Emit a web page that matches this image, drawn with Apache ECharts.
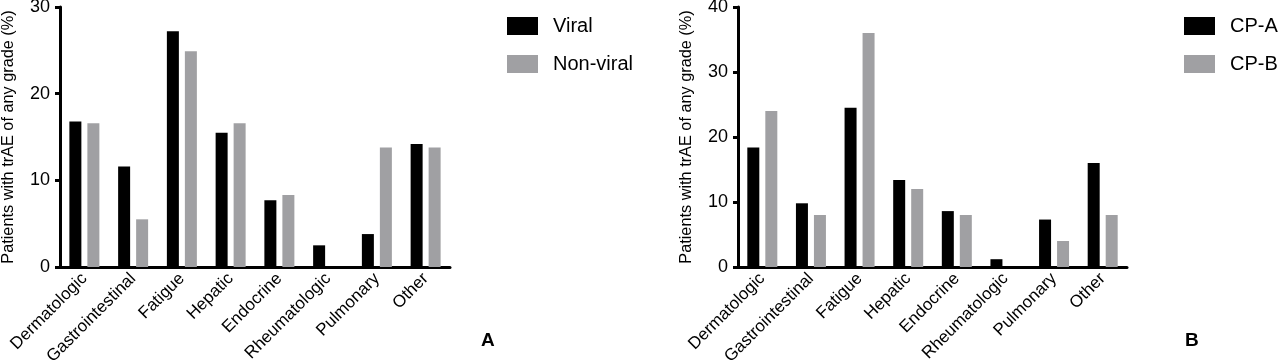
<!DOCTYPE html>
<html>
<head>
<meta charset="utf-8">
<script src="https://cdn.jsdelivr.net/npm/echarts@6/dist/echarts.min.js"></script>
<style>
html,body{margin:0;padding:0;background:#fff;}
#chart{width:1280px;height:361px;}
</style>
</head>
<body>
<div id="chart"></div>
<script>
const categories = ['Dermatologic','Gastrointestinal','Fatigue','Hepatic','Endocrine','Rheumatologic','Pulmonary','Other'];
const viral    = [16.8, 11.6, 27.2, 15.5, 7.7, 2.5, 3.8, 14.2];
const nonViral = [16.6, 5.5, 24.9, 16.6, 8.3, 0, 13.8, 13.8];
const cpA      = [18.4, 9.8, 24.5, 13.4, 8.6, 1.2, 7.3, 16.0];
const cpB      = [24, 8, 36, 12, 8, 0, 4, 8];
const yTicksA = [0, 10, 20, 30];
const yTicksB = [0, 10, 20, 30, 40];
const yTitle = 'Patients with trAE of any grade (%)';

const FONT = '"Liberation Sans", Arial, Helvetica, sans-serif';
const BLACK = '#000000';
const GRAY = '#a0a0a3';

function xAxis(gi){
  return {
    type:'category', gridIndex:gi, data:categories, boundaryGap:true,
    axisLine:{show:true, lineStyle:{color:'#000', width:3}},
    axisTick:{show:false},
    axisLabel:{rotate:45, interval:0, margin:9, fontSize:17, color:'#000', fontFamily:FONT}
  };
}
function yAxis(gi, ticks){
  return {
    type:'value', gridIndex:gi, min:ticks[0], max:ticks[ticks.length-1], interval:ticks[1]-ticks[0],
    name:yTitle, nameLocation:'middle', nameGap:43,
    nameTextStyle:{fontSize:16.3, color:'#000', fontFamily:FONT},
    splitLine:{show:false},
    axisLine:{show:true, onZero:false, lineStyle:{color:'#000', width:3}},
    axisTick:{show:true, length:5, lineStyle:{color:'#000', width:3}},
    axisLabel:{margin:10, fontSize:18, color:'#000', fontFamily:FONT}
  };
}
function bar(name, data, color, xi){
  return {name:name, type:'bar', xAxisIndex:xi, yAxisIndex:xi, data:data,
    barWidth:12, barGap:'50%', itemStyle:{color:color}, animation:false};
}
function legend(names, left){
  return {
    data:names, orient:'vertical', left:left, top:16, itemWidth:31, itemHeight:18, itemGap:18,
    icon:'rect', padding:0,
    textStyle:{fontSize:20, color:'#000', fontFamily:FONT, padding:[0,0,0,10]}
  };
}

const chart = echarts.init(document.getElementById('chart'), null, {renderer:'canvas'});
chart.setOption({
  animation:false,
  backgroundColor:'#fff',
  grid:[
    {left:60, top:7, width:390, height:260, containLabel:false, outerBoundsMode:'none'},
    {left:738, top:7, width:389, height:260, containLabel:false, outerBoundsMode:'none'}
  ],
  xAxis:[xAxis(0), xAxis(1)],
  yAxis:[yAxis(0, yTicksA), yAxis(1, yTicksB)],
  legend:[legend(['Viral','Non-viral'], 507), legend(['CP-A','CP-B'], 1184)],
  title:[
    {text:'A', left:481, top:331, padding:0, textStyle:{fontSize:19, fontWeight:'bold', color:'#000', fontFamily:FONT}},
    {text:'B', left:1185, top:331, padding:0, textStyle:{fontSize:19, fontWeight:'bold', color:'#000', fontFamily:FONT}}
  ],
  series:[
    bar('Viral', viral, BLACK, 0),
    bar('Non-viral', nonViral, GRAY, 0),
    bar('CP-A', cpA, BLACK, 1),
    bar('CP-B', cpB, GRAY, 1)
  ]
});
</script>
</body>
</html>
